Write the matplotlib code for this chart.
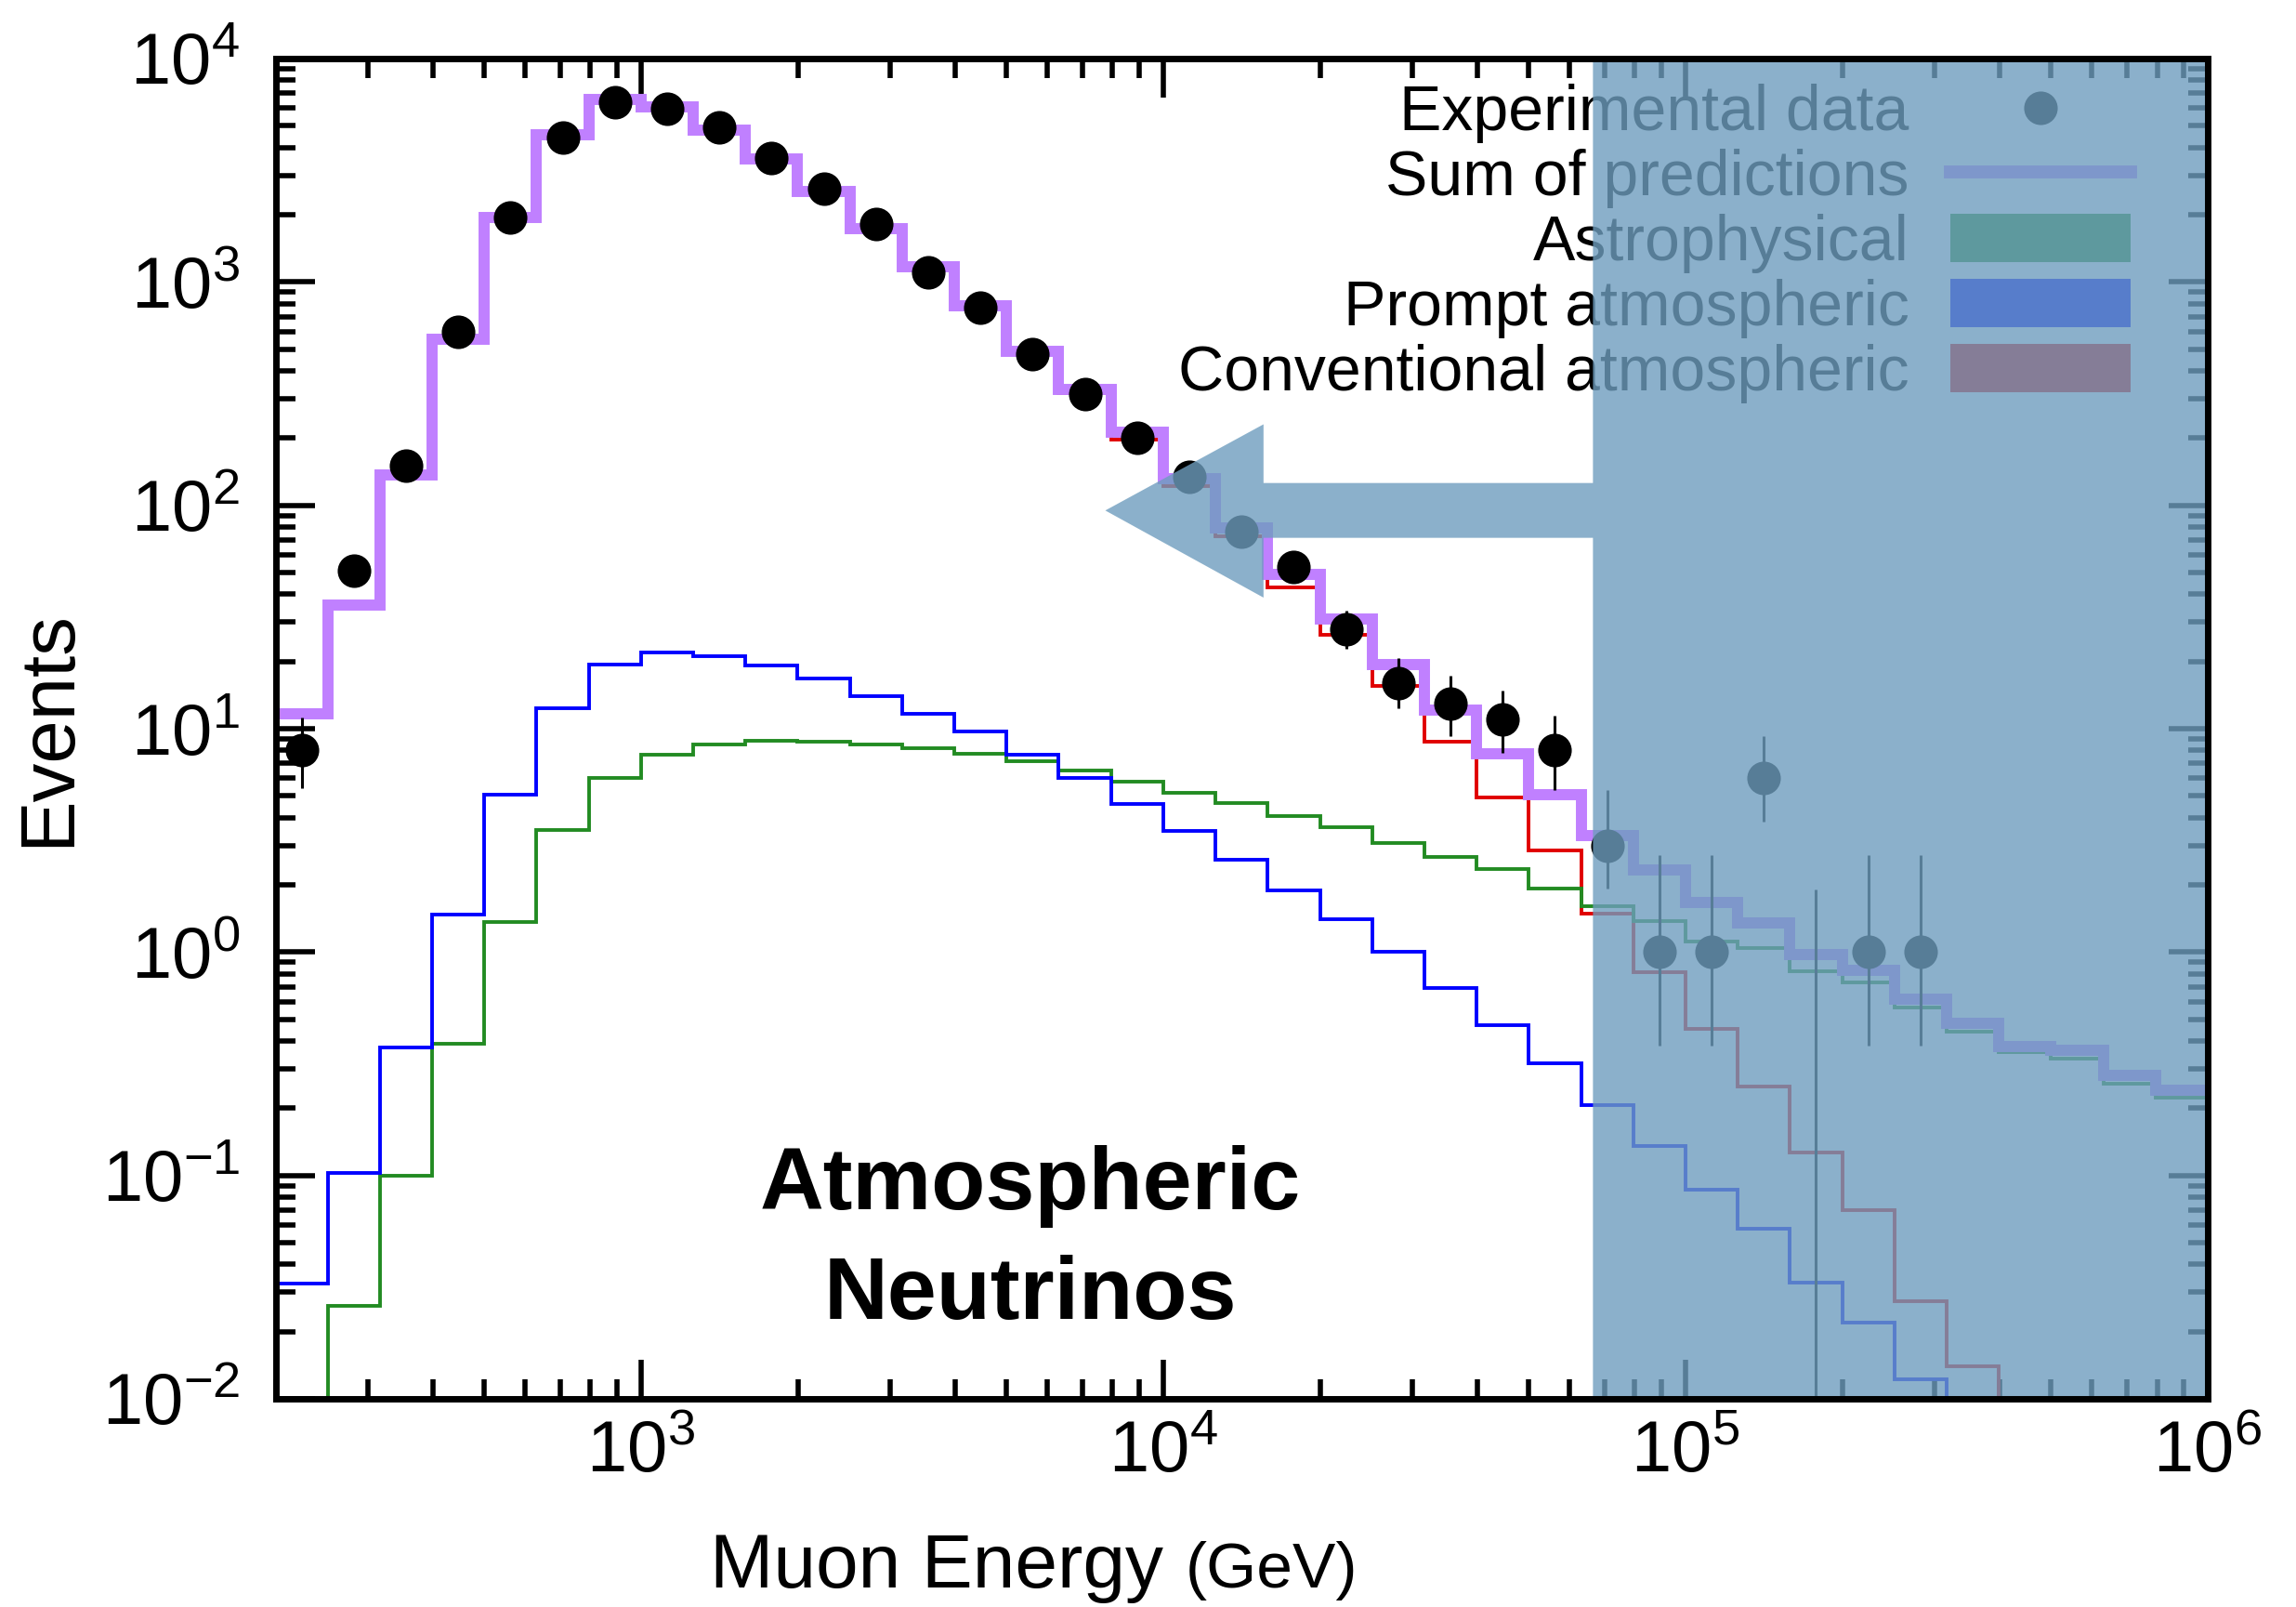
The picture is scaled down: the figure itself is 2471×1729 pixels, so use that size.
import numpy as np
import matplotlib
matplotlib.use("Agg")
import matplotlib.pyplot as plt
import matplotlib.transforms as mtransforms
from matplotlib.patches import Polygon, Patch
from matplotlib.lines import Line2D
from matplotlib.ticker import LogLocator, NullFormatter

plt.rcParams['font.family'] = ['Liberation Sans', 'DejaVu Sans']
plt.rcParams['mathtext.fontset'] = 'custom'
plt.rcParams['mathtext.rm'] = 'Liberation Sans'
plt.rcParams['mathtext.it'] = 'Liberation Sans:italic'
plt.rcParams['mathtext.bf'] = 'Liberation Sans:bold'
plt.rcParams['axes.unicode_minus'] = False

# Binning: 0.1 decade bins in muon energy (GeV), 10^2.3 .. 10^6
log_edges = np.round(np.arange(2.3, 6.0001, 0.1), 2)

# Predictions per bin (events)
sum_pred = [11.7, 35.7, 137, 554, 1950, 4570, 6550, 6100, 4800, 3570,
            2540, 1730, 1173, 780, 490, 330, 213, 132, 79, 49,
            31, 19.3, 12.1, 7.7, 5.05, 3.31, 2.33, 1.67, 1.355, 0.978,
            0.83, 0.614, 0.482, 0.379, 0.362, 0.28, 0.241]
conventional = [11.6, 35.6, 136.5, 552, 1944, 4554, 6525, 6070, 4770, 3542,
                2514, 1708, 1153, 763, 475, 318, 197, 122, 73, 43,
                26.3, 15.5, 8.75, 4.9, 2.85, 1.48, 0.81, 0.455, 0.251, 0.127,
                0.0702, 0.0273, 0.014, 0.005, 0.005, 0.005, 0.005]
prompt = [0.0327, 0.103, 0.373, 1.47, 5.05, 12.4, 19.4, 22.0, 21.2, 19.2,
          16.8, 14.0, 11.7, 9.7, 7.66, 6.0, 4.6, 3.5, 2.59, 1.88,
          1.4, 1.0, 0.69, 0.47, 0.318, 0.206, 0.136, 0.086, 0.0575, 0.033,
          0.0219, 0.0122, 0.005, 0.005, 0.005, 0.005, 0.005]
astro = [0.005, 0.026, 0.1, 0.388, 1.36, 3.51, 6.0, 7.66, 8.49, 8.84,
         8.75, 8.49, 8.19, 7.75, 7.12, 6.5, 5.8, 5.17, 4.63, 4.05,
         3.62, 3.07, 2.67, 2.35, 1.93, 1.61, 1.37, 1.11, 1.04, 0.824,
         0.73, 0.562, 0.44, 0.357, 0.332, 0.257, 0.223]

# Experimental data (first 32 bins), with error bar bounds
data_counts = [8, 51, 150, 600, 1950, 4430, 6350, 5980, 4900, 3580,
               2610, 1815, 1105, 768, 473, 316, 200, 134, 76, 53,
               28, 16, 13, 11, 8, 3, 1, 1, 6, np.nan, 1, 1]
data_lo = [5.4, 44, 138, 575, 1905, 4360, 6270, 5900, 4830, 3520,
           2560, 1772, 1072, 740, 451, 298, 186, 122, 67, 46,
           22.7, 12.3, 9.3, 7.8, 5.3, 1.93, 0.38, 0.38, 3.84, 0.001, 0.38, 0.38]
data_hi = [11.2, 58, 162, 625, 1995, 4500, 6430, 6060, 4970, 3640,
           2660, 1858, 1138, 796, 495, 334, 214, 146, 85, 60,
           33.7, 20.8, 17.2, 14.8, 11.4, 5.3, 2.73, 2.73, 9.3, 1.9, 2.73, 2.73]

edges = 10 ** log_edges
centers = 10 ** ((log_edges[:-1] + log_edges[1:]) / 2)[:len(data_counts)]

fig = plt.figure(figsize=(2471 / 200, 1729 / 200), dpi=200)
ax = fig.add_axes([297 / 2471, 1 - 1505 / 1729, 2079 / 2471, 1442 / 1729])

c_conv = '#E00000'
c_prompt = '#0000FF'
c_astro = '#228B22'
c_sum = '#C080FF'

ax.stairs(conventional, edges, baseline=None, color=c_conv, lw=1.4, zorder=2)
ax.stairs(astro, edges, baseline=None, color=c_astro, lw=1.4, zorder=2.1)
ax.stairs(prompt, edges, baseline=None, color=c_prompt, lw=1.4, zorder=2.2)
ax.stairs(sum_pred, edges, baseline=None, color=c_sum, lw=4.3, zorder=3)

ax.vlines(centers, data_lo, data_hi, color='k', lw=1.1, zorder=3.5)
ax.plot(centers, data_counts, 'o', color='k', ms=12, zorder=4)

ax.set_xscale('log')
ax.set_yscale('log')
ax.set_xlim(200, 1e6)
ax.set_ylim(1e-2, 1e4)

ax.xaxis.set_minor_locator(LogLocator(base=10, subs=np.arange(2, 10)))
ax.yaxis.set_minor_locator(LogLocator(base=10, subs=np.arange(2, 10), numticks=20))
ax.yaxis.set_major_locator(LogLocator(base=10, numticks=20))
ax.xaxis.set_minor_formatter(NullFormatter())
ax.yaxis.set_minor_formatter(NullFormatter())

ax.tick_params(which='both', direction='in', top=True, right=True, labelsize=28)
ax.tick_params(which='major', length=15, width=2)
ax.tick_params(which='minor', length=7.5, width=2)
ax.tick_params(axis='x', which='major', pad=8)
ax.tick_params(axis='y', which='major', pad=14)
for sp in ax.spines.values():
    sp.set_linewidth(2.5)
    sp.set_zorder(11)

# axis labels
fig.text(52 / 2471, 1 - 784 / 1729, 'Events', rotation=90, ha='center',
         va='center', fontsize=30)
ax.text(0.2246, -0.1408, 'Muon Energy', transform=ax.transAxes,
        fontsize=29.5, ha='left', va='baseline')
ax.text(0.4709, -0.1408, '(GeV)', transform=ax.transAxes,
        fontsize=25, ha='left', va='baseline')

ax.text(0.3903, 0.1415, 'Atmospheric', transform=ax.transAxes,
        fontsize=34.3, fontweight='bold', ha='center', va='baseline')
ax.text(0.3903, 0.0596, 'Neutrinos', transform=ax.transAxes,
        fontsize=34.3, fontweight='bold', ha='center', va='baseline')

# legend
handles = [
    Line2D([], [], ls='none', marker='o', color='k', ms=12),
    Line2D([], [], color=c_sum, lw=5),
    Patch(facecolor=c_astro, edgecolor='none'),
    Patch(facecolor=c_prompt, edgecolor='none'),
    Patch(facecolor=c_conv, edgecolor='none'),
]
labels = ['Experimental data', 'Sum of predictions', 'Astrophysical',
          'Prompt atmospheric', 'Conventional atmospheric']
leg = ax.legend(handles, labels, loc='upper right', bbox_to_anchor=(0.9601, 0.981),
                frameon=False, markerfirst=False, fontsize=24.5, numpoints=1,
                borderpad=0, borderaxespad=0, labelspacing=0.085,
                handlelength=2.85, handleheight=0.8, handletextpad=0.65)
leg.set_zorder(5)

# shaded high-energy region with arrow pointing left (one polygon, no double alpha)
trans = mtransforms.blended_transform_factory(ax.transData, ax.transAxes)
e_cut = 6.65e4
e_head = 1.556e4
e_tip = 7.745e3
shade = Polygon([(e_cut, 0), (1e6, 0), (1e6, 1), (e_cut, 1),
                 (e_cut, 0.6833), (e_head, 0.6833), (e_head, 0.7271),
                 (e_tip, 0.6628), (e_head, 0.5978), (e_head, 0.6424),
                 (e_cut, 0.6424)],
                closed=True, transform=trans, facecolor='#6E9DBE',
                edgecolor='none', alpha=0.8, zorder=10)
ax.add_patch(shade)

fig.savefig('out.png', dpi=200)
